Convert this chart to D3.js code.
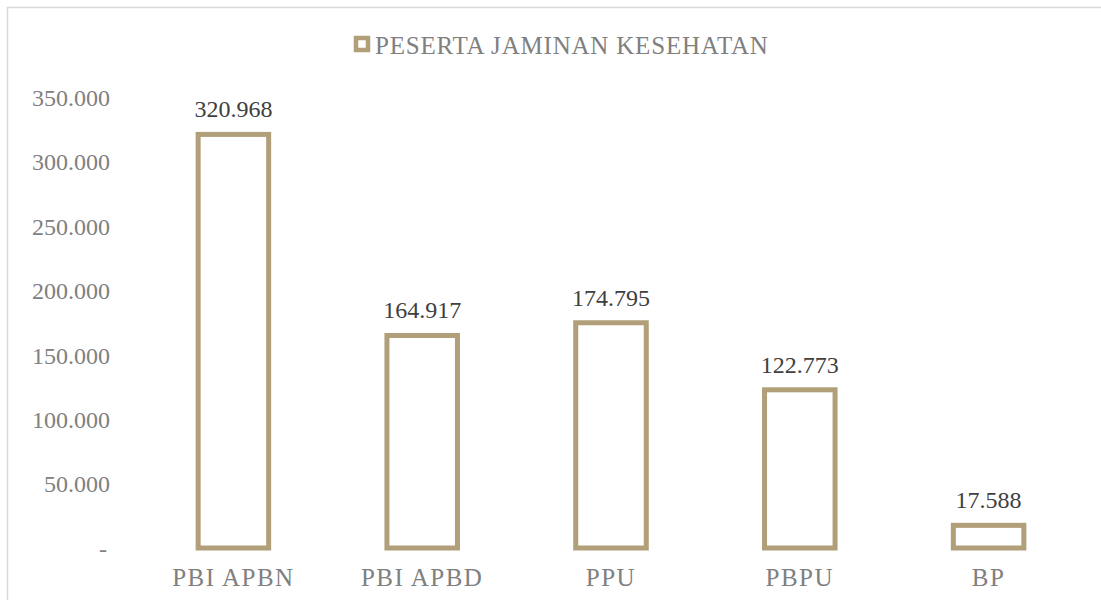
<!DOCTYPE html>
<html>
<head>
<meta charset="utf-8">
<script src="https://cdn.jsdelivr.net/npm/d3@7"></script>
<style>
  body { margin: 0; background: #fff; }
</style>
</head>
<body>
<div id="chart"></div>
<script>
var categories = ["PBI APBN", "PBI APBD", "PPU", "PBPU", "BP"];
var values = [320968, 164917, 174795, 122773, 17588];
var yTicks = [0, 50000, 100000, 150000, 200000, 250000, 300000, 350000];
var seriesName = "PESERTA JAMINAN KESEHATAN";

var width = 1101,
    height = 600,
    barColor = "#b09f78",
    fontFam = "'Liberation Serif', Tinos, 'Noto Serif', 'DejaVu Serif', serif";

var margin = {top: 97, right: 18, bottom: 52, left: 139};

var svg = d3.select("#chart").append("svg")
    .attr("width", width)
    .attr("height", height);

// chart frame
svg.append("rect")
    .attr("x", 7.5).attr("y", 7.5)
    .attr("width", 1100).attr("height", 600)
    .style("fill", "none")
    .style("stroke", "#d9d9d9")
    .style("stroke-width", 1.5);

var x = d3.scaleBand()
    .domain(categories)
    .range([margin.left, width - margin.right])
    .paddingInner(0.6)
    .paddingOuter(0.3);

var y = d3.scaleLinear()
    .domain([0, 350000])
    .range([height - margin.bottom, margin.top]);

// y axis labels
var yAxis = svg.append("g")
    .attr("transform", "translate(" + 110 + ",0)")
    .call(d3.axisLeft(y).tickValues(yTicks).tickSize(0).tickPadding(0).tickFormat(function(d) {
        return d === 0 ? "-" : (d / 1000).toFixed(3);
    }));
yAxis.select(".domain").remove();
yAxis.selectAll("text")
    .style("font-family", fontFam)
    .style("font-size", "24px")
    .style("fill", "#808080")
    .attr("dy", "0.35em")
    .attr("dx", function(d) { return d === 0 ? -3 : 0; });

// x axis labels
var xAxis = svg.append("g")
    .attr("transform", "translate(0," + (height - margin.bottom) + ")")
    .call(d3.axisBottom(x).tickSize(0).tickPadding(20));
xAxis.select(".domain").remove();
xAxis.selectAll("text")
    .style("font-family", fontFam)
    .style("font-size", "25px")
    .style("letter-spacing", "1.5px")
    .style("fill", "#808080");

var sw = 5;

svg.selectAll("rect.bar")
    .data(values)
    .enter().append("rect")
    .attr("class", "bar")
    .attr("x", function(d, i) { return x(categories[i]) + sw / 2; })
    .attr("y", function(d) { return y(d); })
    .attr("width", x.bandwidth() - sw)
    .attr("height", function(d) { return y(0) - y(d); })
    .style("fill", "#fff")
    .style("stroke", barColor)
    .style("stroke-width", sw);

svg.selectAll("text.val")
    .data(values)
    .enter().append("text")
    .attr("class", "val")
    .attr("x", function(d, i) { return x(categories[i]) + x.bandwidth() / 2; })
    .attr("y", function(d) { return y(d) - 17; })
    .attr("text-anchor", "middle")
    .style("font-family", fontFam)
    .style("font-size", "24px")
    .style("fill", "#404040")
    .text(function(d) { return (d / 1000).toFixed(3); });

// legend
var legend = svg.append("g").attr("transform", "translate(356,38)");
legend.append("rect")
    .attr("x", 0).attr("y", 0)
    .attr("width", 12).attr("height", 12)
    .style("fill", "#fff")
    .style("stroke", barColor)
    .style("stroke-width", 4.5);
legend.append("text")
    .attr("x", 19).attr("y", 16)
    .style("font-family", fontFam)
    .style("font-size", "25px")
    .style("letter-spacing", "0.8px")
    .style("fill", "#808080")
    .text(seriesName);
</script>
</body>
</html>
